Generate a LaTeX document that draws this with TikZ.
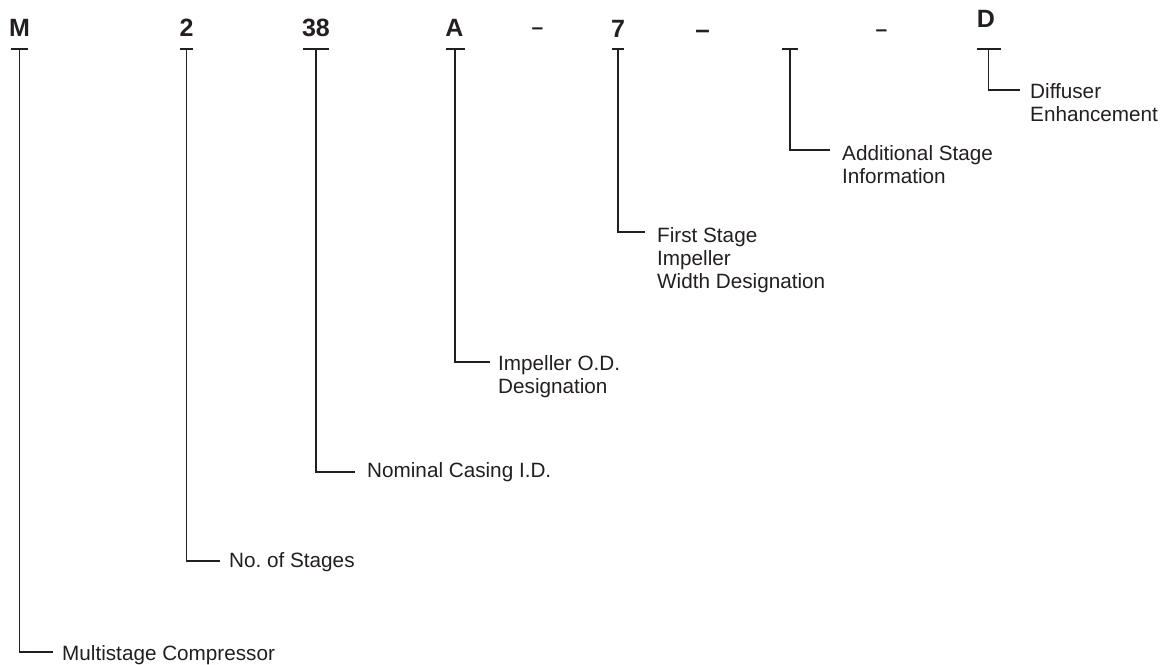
\documentclass[tikz,border=0pt]{standalone}
\usepackage{fontspec}
\setmainfont{Liberation Sans}
\definecolor{ink}{HTML}{231F20}
\frenchspacing
\begin{document}
\begin{tikzpicture}[x=1pt,y=-1pt,
  code/.style={font=\fontsize{25}{28}\selectfont\bfseries, text=ink, inner sep=0pt, anchor=base},
  dashmark/.style={font=\fontsize{#1}{#1}\selectfont\bfseries, text=ink, inner sep=0pt, anchor=base},
  lbl/.style={font=\fontsize{20.7}{23}\selectfont, text=ink, inner sep=0pt, anchor=north west, align=left},
  lead/.style={draw=ink, line width=1.8pt},
]
\useasboundingbox (0,0) rectangle (1175,664);

% code characters
\node[code] (cM) at (19.5,36) {M};
\node[code] (c2) at (186.5,36) {2};
\node[code] (c38) at (316,36) {38};
\node[code] (cA) at (454.5,36) {A};
\node[dashmark=21] (d1) at (537.5,34) {–};
\node[code] (c7) at (618,37) {7};
\node[dashmark=26] (d2) at (702.5,38.3) {–};
\node[dashmark=21] (d3) at (881.5,36) {–};
\node[code] (cD) at (986,27) {D};

% tops of the T marks
\coordinate (tM) at (19.5,49);
\coordinate (t2) at (186.5,49);
\coordinate (t38) at (316,49);
\coordinate (tA) at (455,49);
\coordinate (t7) at (618,49);
\coordinate (tAdd) at (790,49);
\coordinate (tD) at (988.5,49);

% bars
\draw[lead] ([xshift=-8.5]tM) -- ([xshift=8.5]tM);
\draw[lead] ([xshift=-6.5]t2) -- ([xshift=6.5]t2);
\draw[lead] ([xshift=-13]t38) -- ([xshift=13]t38);
\draw[lead] ([xshift=-9.5]tA) -- ([xshift=9.5]tA);
\draw[lead] ([xshift=-6]t7) -- ([xshift=6]t7);
\draw[lead] ([xshift=-8]tAdd) -- ([xshift=8]tAdd);
\draw[lead] ([xshift=-12]tD) -- ([xshift=12]tD);

% ends of the leaders
\coordinate (eM) at (53,652);
\coordinate (e2) at (220,561);
\coordinate (e38) at (355,472);
\coordinate (eA) at (490,362);
\coordinate (e7) at (645,232);
\coordinate (eAdd) at (830,150);
\coordinate (eD) at (1020,90);

% leaders
\draw[lead] (tM) |- (eM);
\draw[lead] (t2) |- (e2);
\draw[lead] (t38) |- (e38);
\draw[lead] (tA) |- (eA);
\draw[lead] (t7) |- (e7);
\draw[lead] (tAdd) |- (eAdd);
\draw[lead] (tD) |- (eD);

% labels
\node[lbl] (lM) at (62,645) {Multistage Compressor};
\node[lbl] (l2) at (229,552) {No. of Stages};
\node[lbl] (l38) at (367,462) {Nominal Casing I.D.};
\node[lbl] (lA) at (498,355) {Impeller O.D.\\Designation};
\node[lbl] (l7) at (657,227) {First Stage\\Impeller\\Width Designation};
\node[lbl] (lAdd) at (842,145) {Additional Stage\\Information};
\node[lbl] (lD) at (1030,83) {Diffuser\\Enhancement};
\end{tikzpicture}
\end{document}
